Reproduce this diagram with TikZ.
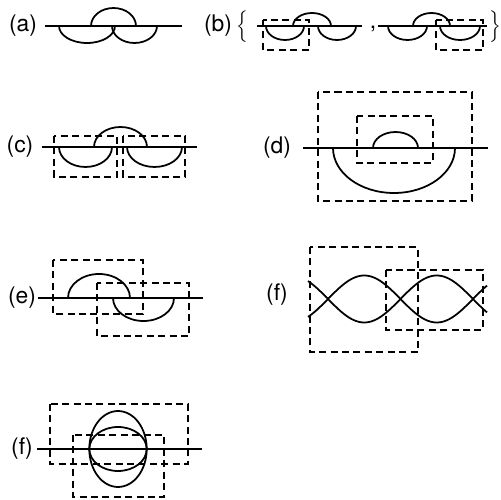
\documentclass[tikz,border=0pt]{standalone}
\usepackage{fontspec}
\setmainfont{TeX Gyre Heros}
\usetikzlibrary{positioning}

\begin{document}
\begin{tikzpicture}[x=0.02cm, y=0.02cm,
    seg/.style={line width=1pt},
    win/.style={line width=0.9pt, dash pattern=on 4pt off 2.5pt},
    lbl/.style={font=\fontsize{13}{15}\selectfont, inner sep=0pt}]
  \useasboundingbox (0,0) rectangle (500,500);

  % (a)
  \node[lbl] (La) at (23,474) {(a)};
  \draw[seg] (45,474) -- (182,474);
  \draw[seg] (91,474) arc[start angle=180, end angle=0, x radius=22.5, y radius=18];
  \draw[seg] (59,474) arc[start angle=180, end angle=360, x radius=28, y radius=17];
  \draw[seg] (112,474) arc[start angle=180, end angle=360, x radius=22.5, y radius=17];

  % (b)
  \node[lbl] (Lb) at (218,474) {(b)};
  \node[inner sep=0pt] (BL) at (243,473) {$\left\{\vcenter{\hrule height 18pt width 0pt}\right.$};
  \node[inner sep=0pt] (BR) at (494,473) {$\left.\vcenter{\hrule height 18pt width 0pt}\right\}$};
  \draw[seg] (257,474) -- (362,474);
  \draw[seg] (266,474) arc[start angle=180, end angle=360, x radius=19, y radius=14];
  \draw[seg] (293,474) arc[start angle=180, end angle=0, x radius=19, y radius=13];
  \draw[seg] (318,474) arc[start angle=180, end angle=360, x radius=19, y radius=14];
  \draw[win] (263,480) rectangle (309,450);
  \node[lbl] (Cm) at (373,471) {,};
  \draw[seg] (378,474) -- (487,474);
  \draw[seg] (388,474) arc[start angle=180, end angle=360, x radius=19.5, y radius=14];
  \draw[seg] (413,474) arc[start angle=180, end angle=0, x radius=18.5, y radius=13];
  \draw[seg] (440,474) arc[start angle=180, end angle=360, x radius=20, y radius=14];
  \draw[win] (436,480) rectangle (483,450);

  % (c)
  \node[lbl] (Lc) at (20,353) {(c)};
  \draw[seg] (42,353) -- (197,353);
  \draw[seg] (94,353) arc[start angle=180, end angle=0, x radius=26.5, y radius=20];
  \draw[seg] (59,353) arc[start angle=180, end angle=360, x radius=26.5, y radius=20];
  \draw[seg] (127,353) arc[start angle=180, end angle=360, x radius=27.5, y radius=20];
  \draw[win] (54,364) rectangle (117,323);
  \draw[win] (123,364) rectangle (185,323);

  % (d)
  \node[lbl] (Ld) at (277,352) {(d)};
  \draw[seg] (303,352) -- (488,352);
  \draw[seg] (373,352) arc[start angle=180, end angle=0, x radius=22.5, y radius=16];
  \draw[seg] (333,352) arc[start angle=180, end angle=360, x radius=61, y radius=45];
  \draw[win] (318,408) rectangle (472,299);
  \draw[win] (357,384) rectangle (433,337);

  % (e)
  \node[lbl] (Le) at (22,202) {(e)};
  \draw[seg] (38,202) -- (203,202);
  \draw[seg] (68,202) arc[start angle=180, end angle=0, x radius=31, y radius=24];
  \draw[seg] (113,202) arc[start angle=180, end angle=360, x radius=30.5, y radius=23];
  \draw[win] (53,240) rectangle (143,186);
  \draw[win] (97,217) rectangle (189,164);

  % (f), right
  \node[lbl] (Lf) at (277,205) {(f)};
  \draw[seg] plot[domain=308:487, samples=80, smooth] (\x, {201+23.5*sin((\x-328)/72.5*180)});
  \draw[seg] plot[domain=308:487, samples=80, smooth] (\x, {201-23.5*sin((\x-328)/72.5*180)});
  \draw[win] (310,253) rectangle (418,148);
  \draw[win] (386,230) rectangle (483,170);

  % (f), bottom
  \node[lbl] (Lg) at (22,51) {(f)};
  \draw[seg] (37,51) -- (202,51);
  \draw[seg] (118,51) ellipse[x radius=28.7, y radius=38];
  \draw[seg] (118,51) ellipse[x radius=28.7, y radius=22];
  \draw[win] (50,96) rectangle (188,36);
  \draw[win] (73,65) rectangle (164,3);
\end{tikzpicture}
\end{document}
